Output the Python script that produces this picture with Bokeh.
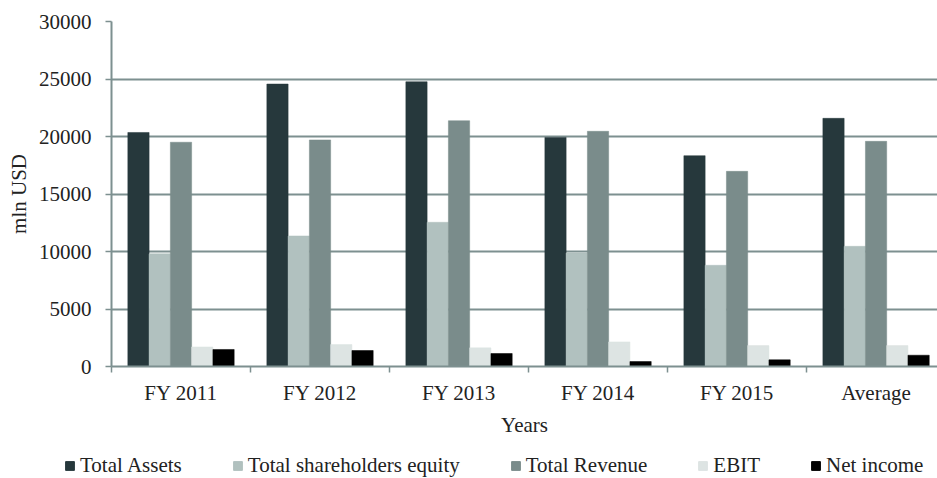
from bokeh.plotting import figure
from bokeh.layouts import column
from bokeh.models import ColumnDataSource, Range1d, FixedTicker, Legend, LegendItem
from bokeh.embed import file_html
from bokeh.resources import INLINE

categories = ["FY 2011", "FY 2012", "FY 2013", "FY 2014", "FY 2015", "Average"]
series_names = ["Total Assets", "Total shareholders equity", "Total Revenue", "EBIT", "Net income"]
total_assets = [20350, 24560, 24760, 19920, 18330, 21580]
shareholders_equity = [9800, 11350, 12540, 9880, 8800, 10450]
total_revenue = [19500, 19700, 21370, 20450, 16970, 19580]
ebit = [1700, 1910, 1620, 2140, 1820, 1820]
net_income = [1480, 1390, 1130, 430, 580, 980]
y_ticks = [0, 5000, 10000, 15000, 20000, 25000, 30000]

series_values = [total_assets, shareholders_equity, total_revenue, ebit, net_income]
colors = ["#26383c", "#b1c1bf", "#7a8c8b", "#dde4e3", "#000000"]

FONT = "Liberation Serif"
TXT = "#222222"
GRID = "#7d9090"
FS = "21px"

p = figure(width=937, height=448, output_backend="svg", toolbar_location=None,
           x_range=Range1d(0, 5.942), y_range=Range1d(0, 30000),
           min_border_left=111, min_border_right=0, min_border_top=21, min_border_bottom=82)
p.outline_line_color = None
p.background_fill_color = "white"
p.border_fill_color = "white"
p.frame_align = False

bw = 0.153
sources = []
for k, (name, vals, col) in enumerate(zip(series_names, series_values, colors)):
    xs = [i + 0.5 + (k - 2) * bw for i in range(len(categories))]
    src = ColumnDataSource(dict(x=xs, top=vals))
    sources.append(src)
    p.vbar(x="x", top="top", width=bw, source=src, fill_color=col,
           line_color=col, line_width=0.5)

# axes
centers = [i + 0.5 for i in range(len(categories))]
p.xaxis.ticker = FixedTicker(ticks=centers, minor_ticks=list(range(len(categories) + 1)))
p.xaxis.major_label_overrides = {c: lab for c, lab in zip(centers, categories)}
p.xaxis.major_tick_line_color = None
p.xaxis.minor_tick_line_color = GRID
p.xaxis.minor_tick_line_width = 1.5
p.xaxis.minor_tick_out = 6
p.xaxis.minor_tick_in = 0
p.xaxis.axis_line_color = GRID
p.xaxis.axis_line_width = 2
p.xaxis.major_label_standoff = 8
p.xaxis.axis_label = "Years"
p.xaxis.axis_label_standoff = 5

p.yaxis.ticker = FixedTicker(ticks=y_ticks)
p.yaxis.axis_line_color = GRID
p.yaxis.axis_line_width = 2
p.yaxis.major_tick_line_color = GRID
p.yaxis.major_tick_line_width = 1.5
p.yaxis.major_tick_out = 6
p.yaxis.major_tick_in = 0
p.yaxis.minor_tick_line_color = None
p.yaxis.major_label_standoff = 14
p.yaxis.axis_label = "mln USD"
p.yaxis.axis_label_standoff = 5

for ax in [p.xaxis[0], p.yaxis[0]]:
    ax.major_label_text_font = FONT
    ax.major_label_text_font_size = FS
    ax.major_label_text_color = TXT
    ax.axis_label_text_font = FONT
    ax.axis_label_text_font_size = FS
    ax.axis_label_text_font_style = "normal"
    ax.axis_label_text_color = TXT

p.xgrid.grid_line_color = None
p.ygrid.ticker = FixedTicker(ticks=y_ticks)
p.ygrid.grid_line_color = GRID
p.ygrid.grid_line_width = 2

# legend strip below the chart: same series renderers, viewed far outside their data range
lf = figure(width=937, height=30, output_backend="svg", toolbar_location=None,
            x_range=Range1d(0, 5.942), y_range=Range1d(1e6, 2e6),
            min_border_left=0, min_border_right=0, min_border_top=0, min_border_bottom=0)
lf.frame_align = False
lf.axis.visible = False
lf.grid.visible = False
lf.outline_line_color = None
lf.border_fill_color = "white"
lf.background_fill_color = "white"
items = []
for name, col, src in zip(series_names, colors, sources):
    r = lf.vbar(x="x", top="top", width=bw, source=src, fill_color=col, line_color=col)
    items.append(LegendItem(label=name, renderers=[r]))
legend = Legend(items=items, orientation="horizontal", location=(64, 0),
                glyph_width=11, glyph_height=11, label_standoff=5, spacing=50,
                padding=0, margin=0, border_line_color=None, background_fill_alpha=0,
                label_text_font=FONT, label_text_font_size=FS, label_text_color=TXT)
lf.add_layout(legend, "center")

layout = column(p, lf, spacing=0)
open("out.html", "w").write(file_html(layout, INLINE))
